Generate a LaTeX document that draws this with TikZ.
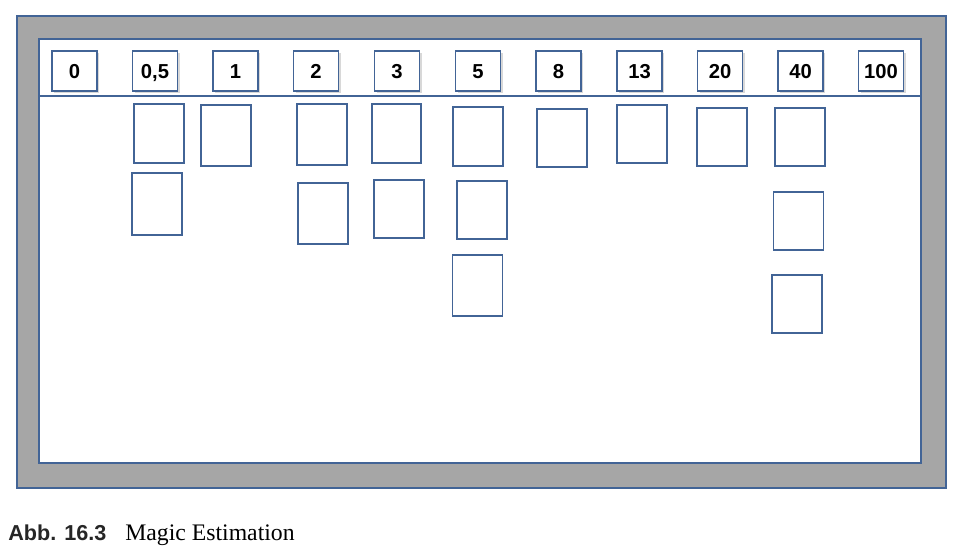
\documentclass[tikz,border=0pt]{standalone}
\usepackage{fontspec}
\setmainfont{Liberation Serif}
\newfontfamily\headfont{Liberation Sans}
\usetikzlibrary{shadows}

\definecolor{boardblue}{RGB}{66,100,150}
\definecolor{framegray}{RGB}{166,166,166}

\begin{document}
\begin{tikzpicture}[x=0.02cm, y=-0.02cm,
  estimate/.style={draw=boardblue, line width=0.75pt, fill=white, minimum width=0.9cm, minimum height=0.8cm, inner sep=0pt,
    text height=8.2pt, text depth=0pt,
    font=\headfont\fontsize{11.5}{13}\selectfont\bfseries,
    drop shadow={shadow xshift=1.4pt, shadow yshift=-1.4pt, opacity=0.3}},
  card/.style={draw=boardblue, line width=0.75pt, minimum width=1cm, minimum height=1.18cm, inner sep=0pt}]
\useasboundingbox (0,0) rectangle (963,551);

% frame and board
\draw[boardblue, line width=0.6pt, fill=framegray] (17,16) rectangle (946,488);
\draw[boardblue, line width=0.6pt, fill=white] (39,39) rectangle (921,463);
\draw[boardblue, line width=0.9pt] (39,96) -- (921,96);

% estimates
\node[estimate] (e0) at (74.5, 71) {0};
\node[estimate] (e05) at (155, 71) {0,5};
\node[estimate] (e1) at (235.5, 71) {1};
\node[estimate] (e2) at (316, 71) {2};
\node[estimate] (e3) at (397, 71) {3};
\node[estimate] (e5) at (478, 71) {5};
\node[estimate] (e8) at (558.5, 71) {8};
\node[estimate] (e13) at (639.5, 71) {13};
\node[estimate] (e20) at (720, 71) {20};
\node[estimate] (e40) at (800.5, 71) {40};
\node[estimate] (e100) at (881, 71) {100};

% cards
\node[card] (c05a) at (159, 133.5) {};
\node[card, minimum height=1.24cm] (c05b) at (157, 204) {};
\node[card, minimum height=1.22cm] (c1) at (226, 135.5) {};
\node[card, minimum height=1.22cm] (c2a) at (322, 134.5) {};
\node[card, minimum height=1.22cm] (c2b) at (323, 213.5) {};
\node[card, minimum width=0.98cm] (c3a) at (396.5, 133.5) {};
\node[card, minimum height=1.16cm] (c3b) at (399, 209) {};
\node[card] (c5a) at (478, 136.5) {};
\node[card, minimum height=1.16cm] (c5b) at (482, 210) {};
\node[card, minimum height=1.22cm] (c5c) at (477.5, 285.5) {};
\node[card, minimum height=1.16cm] (c8) at (562, 138) {};
\node[card, minimum height=1.16cm] (c13) at (642, 134) {};
\node[card, minimum height=1.16cm] (c20) at (722, 137) {};
\node[card, minimum height=1.16cm] (c40a) at (800, 137) {};
\node[card, minimum height=1.16cm] (c40b) at (798.5, 221) {};
\node[card, minimum height=1.16cm] (c40c) at (797, 304) {};

% caption
\node[anchor=base west, inner sep=0pt, font=\headfont\fontsize{12.3}{15}\selectfont\bfseries, text=black!85] (abb) at (8, 540) {Abb. 16.3};
\node[anchor=base west, inner sep=0pt, font=\fontsize{13.5}{16}\selectfont] (title) at (125, 540) {Magic Estimation};

\end{tikzpicture}
\end{document}
